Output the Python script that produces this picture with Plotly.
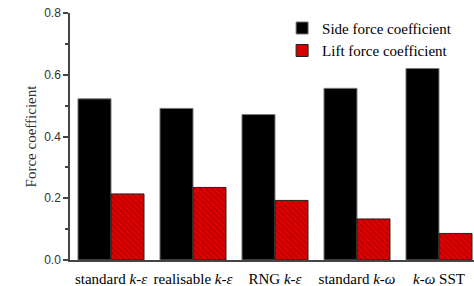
import plotly.graph_objects as go

categories = ["standard <i>k</i>-<i>ε</i>", "realisable <i>k</i>-<i>ε</i>", "RNG <i>k</i>-<i>ε</i>",
              "standard <i>k</i>-<i>ω</i>", "<i>k</i>-<i>ω</i> SST"]
side_force = [0.522, 0.491, 0.471, 0.556, 0.620]
lift_force = [0.214, 0.235, 0.193, 0.133, 0.086]

serif = "Liberation Serif, Times New Roman, serif"

fig = go.Figure()
fig.add_trace(go.Bar(x=categories, y=side_force, name="Side force coefficient",
                     marker=dict(color="black", line=dict(color="#777", width=1))))
fig.add_trace(go.Bar(x=categories, y=lift_force, name="Lift force coefficient",
                     marker=dict(color="#e00000", line=dict(color="#222", width=1),
                                 pattern=dict(shape="\\", fgcolor="#600000", size=4, solidity=0.25))))

fig.update_layout(
    width=474, height=286,
    margin=dict(l=70, r=0, t=13, b=26),
    paper_bgcolor="white", plot_bgcolor="white",
    barmode="group", bargap=0.195, bargroupgap=0,
    font=dict(family=serif, size=13, color="black"),
    legend=dict(x=0.525, y=1.005, xanchor="left", yanchor="top",
                font=dict(family=serif, size=15),
                bgcolor="rgba(0,0,0,0)", tracegroupgap=0, itemwidth=30),
    showlegend=True,
)
fig.update_xaxes(range=[-0.5, 4.427], showline=True, linecolor="#444", linewidth=1.5,
                 ticks="", tickfont=dict(family=serif, size=15, color="black"),
                 ticklabelstandoff=4,
                 showgrid=False, zeroline=False, automargin=False)
fig.update_yaxes(range=[0, 0.8], showline=True, linecolor="#444", linewidth=1.5,
                 ticks="outside", ticklen=5, tickwidth=1.5, tickcolor="#444",
                 tickvals=[0, 0.2, 0.4, 0.6, 0.8], ticktext=["0.0", "0.2", "0.4", "0.6", "0.8"],
                 minor=dict(tickvals=[0.1, 0.3, 0.5, 0.7], ticks="outside", ticklen=3, tickcolor="#444", tickwidth=1.5),
                 tickfont=dict(family="Liberation Sans, Arial, sans-serif", size=12, color="#333"),
                 showgrid=False, zeroline=False, automargin=False,
                 title=dict(text="Force coefficient", standoff=4,
                            font=dict(family=serif, size=15, color="#333")))

fig.write_html("out.html", config={"displayModeBar": False},
               post_script="document.body.style.margin='0px';document.body.style.overflow='hidden';")
